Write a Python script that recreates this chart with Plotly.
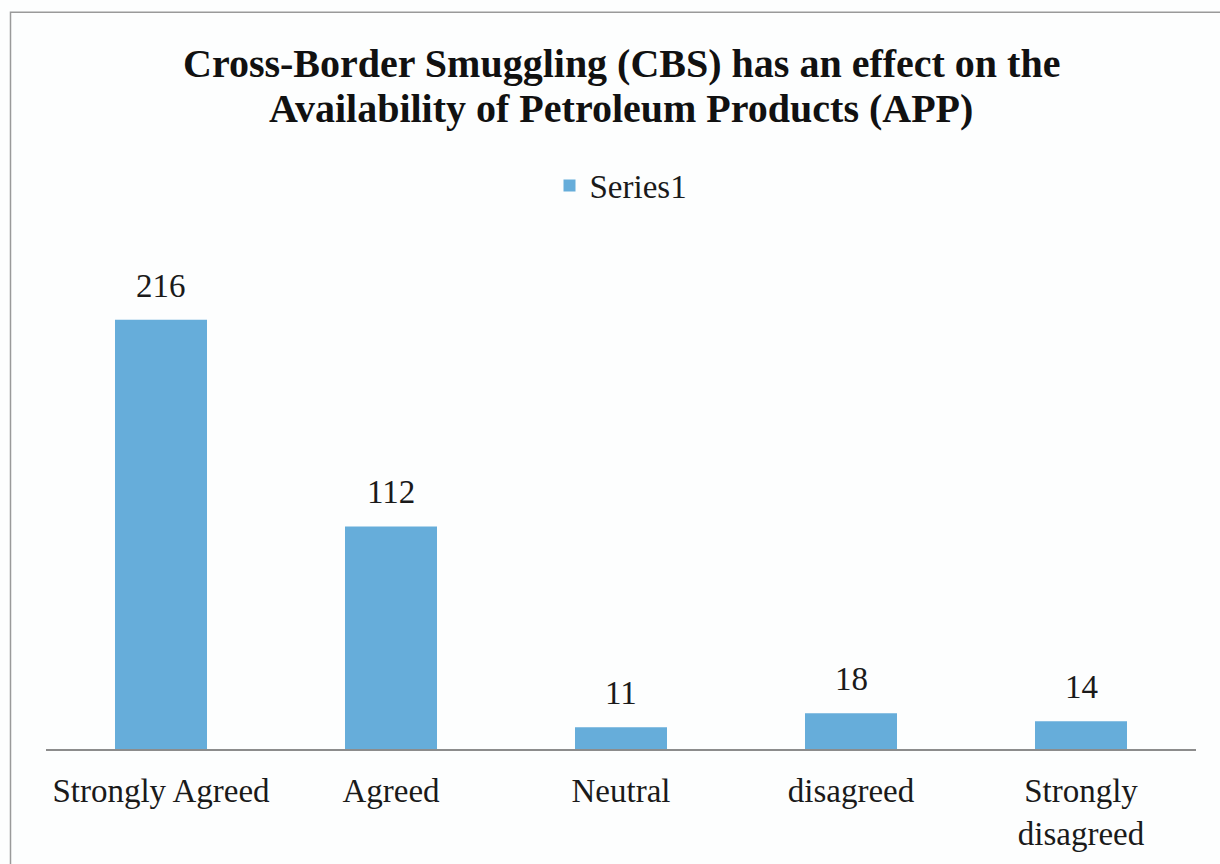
import plotly.graph_objects as go

categories = ["Strongly Agreed", "Agreed", "Neutral", "disagreed", "Strongly<br>disagreed"]
values = [216, 112, 11, 18, 14]
series_name = "Series1"
title_lines = ["Cross-Border Smuggling (CBS) has an effect on the",
               "Availability of Petroleum Products (APP)"]

W, H = 1220, 864
L, R, T, B = 46, 24, 272, 112
plot_w = W - L - R
plot_h = H - T - B

def px_x(x):
    return (x - L) / plot_w

def px_y(y):
    return (H - B - y) / plot_h

FONT = "Liberation Serif"
BAR = "#66ADDA"

fig = go.Figure()
fig.add_trace(go.Bar(
    x=categories, y=values, name=series_name,
    marker=dict(color=BAR, line=dict(width=0)),
    width=0.4, showlegend=True,
))

for c, v in zip(categories, values):
    fig.add_annotation(x=c, y=v, text=str(v), showarrow=False,
                       yanchor="bottom", yshift=14,
                       font=dict(family=FONT, size=33, color="#1a1a1a"))

for i, line in enumerate(title_lines):
    fig.add_annotation(xref="paper", yref="paper", x=px_x(621), y=px_y(62 + i * 45),
                       text="<b>" + line + "</b>", showarrow=False,
                       xanchor="center", yanchor="middle",
                       font=dict(family=FONT, size=40, color="#111111"))

fig.add_shape(type="rect", xref="paper", yref="paper",
              x0=px_x(10.5), x1=px_x(1240), y0=px_y(10.5), y1=px_y(900),
              line=dict(color="#9a9a9a", width=1.5), fillcolor="rgba(0,0,0,0)", layer="below")

fig.update_layout(
    width=W, height=H,
    margin=dict(l=L, r=R, t=T, b=B, pad=0),
    paper_bgcolor="#FDFEFE", plot_bgcolor="#FDFEFE",
    font=dict(family=FONT, size=33, color="#1a1a1a"),
    bargap=0.6,
    showlegend=True,
    legend=dict(orientation="h", x=px_x(621), y=px_y(185), xanchor="center", yanchor="middle",
                font=dict(family=FONT, size=33, color="#1a1a1a"),
                bgcolor="rgba(0,0,0,0)", itemwidth=30),
    xaxis=dict(showline=True, linecolor="#8c8c8c", linewidth=1.5,
               ticks="outside", ticklen=12, tickcolor="rgba(0,0,0,0)",
               showgrid=False, zeroline=False,
               tickfont=dict(family=FONT, size=33, color="#1a1a1a")),
    yaxis=dict(visible=False, range=[0, 240], showgrid=False, zeroline=False),
)

fig.write_html("out.html")
